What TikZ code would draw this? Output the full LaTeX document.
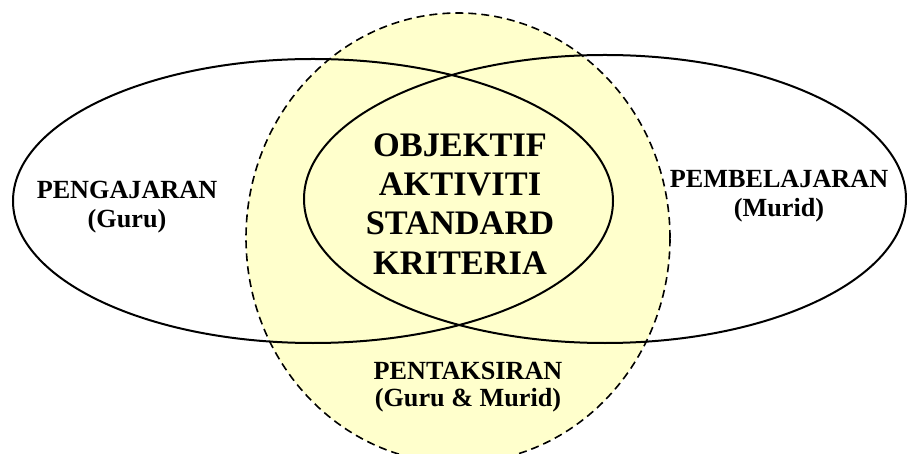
\documentclass[tikz,border=0pt]{standalone}
\usepackage{fontspec}
\setmainfont{Liberation Serif}
\usetikzlibrary{positioning}
\definecolor{assessyellow}{RGB}{255, 255, 204}

\begin{document}
\begin{tikzpicture}[
      x=1bp, y=-1bp,
      zone/.style={draw=black, line width=2bp},
      assess/.style={draw=black, fill=assessyellow, line width=1.6bp, dash pattern=on 8bp off 5bp},
      label/.style={align=center, inner sep=0pt, font=\fontsize{26.3}{27.5}\selectfont\bfseries},
      core/.style={align=center, inner sep=0pt, font=\fontsize{34.5}{39.3}\selectfont\bfseries}
    ]
      \useasboundingbox (0,0) rectangle (907,454);

      % assessment area behind both ellipses
      \draw[assess] (458,238) ellipse [x radius=212bp, y radius=225bp];

      \draw[zone] (313,201) ellipse [x radius=300bp, y radius=142bp];
      \draw[zone] (605,199) ellipse [x radius=301bp, y radius=144bp];

      \node[label] (teach) at (127,207) {PENGAJARAN\\[2bp](Guru)};
      \node[label] (learn) at (779,196) {PEMBELAJARAN\\[1bp](Murid)};
      \node[core] (centre) at (460,204) {OBJEKTIF\\AKTIVITI\\STANDARD\\KRITERIA};
      \node[label] (assessment) at (468,387) {PENTAKSIRAN\\(Guru \& Murid)};
    \end{tikzpicture}
\end{document}
